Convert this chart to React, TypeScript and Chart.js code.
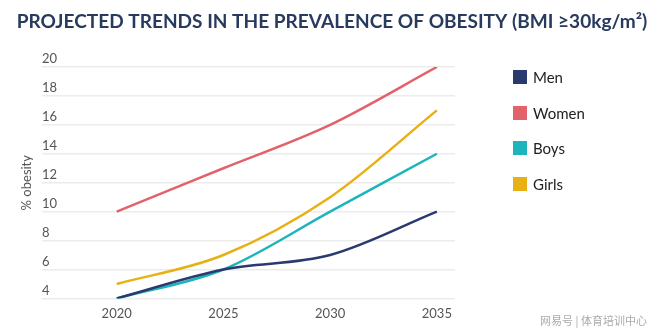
import React, { useEffect, useRef } from "react";
import { Chart, registerables } from "chart.js";
Chart.register(...registerables);

const years = [2020, 2025, 2030, 2035];
const men = [4, 6, 7, 10];
const women = [10, 13, 16, 20];
const boys = [4, 6, 10, 14];
const girls = [5, 7, 11, 17];
const yTickValues = [4, 6, 8, 10, 12, 14, 16, 18, 20];
const seriesNames = ["Men", "Women", "Boys", "Girls"];
const seriesColors = ["#2b3a6e", "#e2626b", "#1db5bd", "#e9b014"];
const titleText = "PROJECTED TRENDS IN THE PREVALENCE OF OBESITY (BMI ≥30kg/m²)";
const yAxisTitle = "% obesity";
const watermark = "网易号 | 体育培训中心";

const TITLE_FONT = "Lato";

export default function App() {
  const ref = useRef<HTMLCanvasElement | null>(null);

  useEffect(() => {
    if (!ref.current) return;
    const all = [men, women, boys, girls];
    const labelPlugin = {
      id: "labels",
      afterDraw(chart: any) {
        const ctx = chart.ctx;
        const ys = chart.scales.y;
        const area = chart.chartArea;
        ctx.save();
        // title, fitted to the reference width
        ctx.font = `bold 100px "${TITLE_FONT}"`;
        const w100 = ctx.measureText(titleText).width;
        const size = (100 * 631) / w100;
        ctx.font = `bold ${size}px "${TITLE_FONT}"`;
        ctx.fillStyle = "#283a5e";
        ctx.textAlign = "center";
        ctx.textBaseline = "middle";
        ctx.fillText(titleText, 332, 22);
        // y tick labels
        ctx.fillStyle = "#555";
        ctx.font = "13px Lato";
        ctx.textAlign = "left";
        ctx.textBaseline = "middle";
        yTickValues.forEach((v) => {
          ctx.fillText(String(v), area.left, ys.getPixelForValue(v) - 8);
        });
        ctx.translate(27, (area.top + area.bottom) / 2);
        ctx.rotate(-Math.PI / 2);
        ctx.textAlign = "center";
        ctx.fillText(yAxisTitle, 0, 0);
        ctx.restore();
      },
    };
    const chart = new Chart(ref.current, {
      type: "line",
      data: {
        datasets: all.map((arr, i) => ({
          label: seriesNames[i],
          data: arr.map((v, j) => ({ x: years[j], y: v })),
          borderColor: seriesColors[i],
          backgroundColor: seriesColors[i],
          borderWidth: 2.5,
          pointRadius: 0,
          cubicInterpolationMode: "monotone" as const,
          fill: false,
        })),
      },
      options: {
        animation: false,
        responsive: false,
        devicePixelRatio: 1,
        layout: { padding: { left: 42, right: 205, top: 67, bottom: 3 } },
        plugins: {
          legend: { display: false },
          tooltip: { enabled: false },
          title: { display: false },
        },
        scales: {
          x: {
            type: "linear",
            min: 2016.5,
            max: 2035.85,
            afterBuildTicks: (s: any) => {
              s.ticks = years.map((v) => ({ value: v }));
            },
            grid: { display: false, drawTicks: false },
            border: { display: false },
            ticks: {
              color: "#555",
              font: { family: "Lato", size: 13 },
              padding: 8,
              callback: (v: any) => String(v),
            },
          },
          y: {
            type: "linear",
            min: 4,
            max: 20,
            afterBuildTicks: (s: any) => {
              s.ticks = yTickValues.map((v) => ({ value: v }));
            },
            grid: { color: "#ececec", lineWidth: 1.5, drawTicks: false },
            border: { display: false },
            ticks: { display: false },
          },
        },
      },
      plugins: [labelPlugin],
    });
    return () => chart.destroy();
  }, []);

  return (
    <div style={{ position: "fixed", left: 0, top: 0, width: 660, height: 333, background: "#fff" }}>
      <canvas ref={ref} width={660} height={333} style={{ display: "block" }} />
      {seriesNames.map((name, i) => (
        <div
          key={name}
          style={{
            position: "absolute",
            left: 513,
            top: 69 + i * 35.7,
            height: 16,
            display: "flex",
            alignItems: "center",
            fontFamily: "Lato",
            fontSize: 15,
            color: "#222",
          }}
        >
          <span style={{ width: 14, height: 14, background: seriesColors[i], marginRight: 6, display: "inline-block" }} />
          <span>{name}</span>
        </div>
      ))}
      <div
        style={{
          position: "absolute",
          left: 540,
          top: 312,
          fontFamily: "Noto Sans CJK SC",
          fontSize: 11,
          color: "#aaa",
          whiteSpace: "nowrap",
        }}
      >
        {watermark}
      </div>
    </div>
  );
}
